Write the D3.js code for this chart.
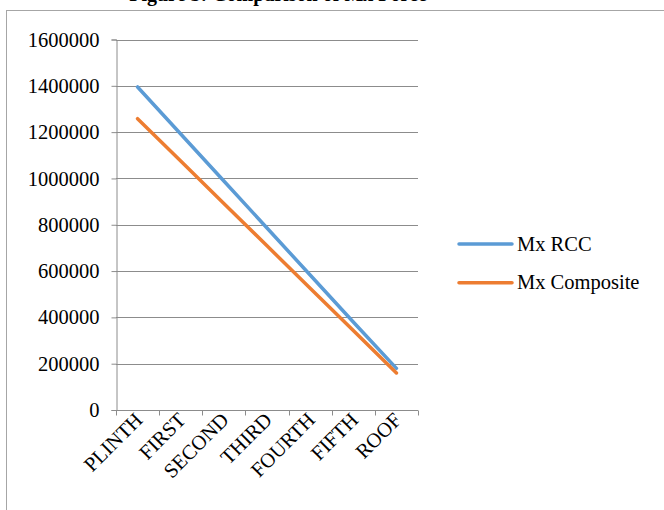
<!DOCTYPE html>
<html>
<head>
<meta charset="utf-8">
<script src="https://cdn.jsdelivr.net/npm/d3@7"></script>
<style>
  html, body { margin: 0; padding: 0; background: #fff; overflow: hidden; }
  svg { display: block; }
  svg text { font-family: "Liberation Serif", "Times New Roman", serif; }
</style>
</head>
<body>
<svg id="chart" width="664" height="510"></svg>
<script>
const floors = ["PLINTH", "FIRST", "SECOND", "THIRD", "FOURTH", "FIFTH", "ROOF"];
const mxRCC       = [1395000, 1192000, 989000, 786000, 583000, 380000, 180000];
const mxComposite = [1258000, 1075000, 892000, 709000, 526000, 343000, 160000];
const yTicks = [0, 200000, 400000, 600000, 800000, 1000000, 1200000, 1400000, 1600000];
const seriesNames = ["Mx RCC", "Mx Composite"];
const seriesColors = ["#5b9bd5", "#ed7d31"];

const serif = "Liberation Serif";
const svg = d3.select("#chart").attr("font-family", serif);
const plot = { left: 116, right: 418, top: 39.5, bottom: 410 };
const fontSize = 20.5;

// outer chart frame (runs off the right/bottom of the window)
svg.append("rect")
  .attr("x", 6.5).attr("y", 10.5)
  .attr("width", 720).attr("height", 560)
  .attr("fill", "none").attr("stroke", "#a6a6a6").attr("stroke-width", 1);

// title, mostly cut off above the frame
svg.append("text")
  .attr("x", 278).attr("y", 1)
  .attr("text-anchor", "middle")
  .attr("font-family", serif)
  .attr("font-weight", "bold")
  .attr("font-size", 20)
  .text("Figure 5: Comparison of Mx Force");

const x = d3.scaleBand().domain(floors).range([plot.left, plot.right]);
const y = d3.scaleLinear().domain([0, 1600000]).range([plot.bottom, plot.top]);

// gridlines
svg.append("g").selectAll("line").data(yTicks.filter(d => d > 0)).join("line")
  .attr("x1", plot.left).attr("x2", plot.right)
  .attr("y1", d => Math.round(y(d)) + 0.5).attr("y2", d => Math.round(y(d)) + 0.5)
  .attr("stroke", "#8c8c8c").attr("stroke-width", 1);

// y axis
const yAxis = svg.append("g")
  .attr("transform", `translate(${plot.left + 0.5},0)`)
  .call(d3.axisLeft(y).tickValues(yTicks).tickSize(5).tickPadding(12).tickFormat(d3.format("d")))
  .attr("font-family", serif).attr("font-size", fontSize);
yAxis.selectAll("line, path").attr("stroke", "#8c8c8c");
yAxis.selectAll("text").attr("fill", "#000");

// x axis
const xAxis = svg.append("g")
  .attr("transform", `translate(0,${Math.round(plot.bottom) + 0.5})`)
  .call(d3.axisBottom(x).tickSize(0).tickFormat(""));
xAxis.select("path").attr("stroke", "#8c8c8c").attr("d", `M${plot.left},0H${plot.right}`);
const edges = floors.map(f => x(f)).concat([plot.right]);
xAxis.selectAll(".edge").data(edges).join("line")
  .attr("class", "edge")
  .attr("x1", d => Math.round(d) + 0.5).attr("x2", d => Math.round(d) + 0.5)
  .attr("y1", 0).attr("y2", 5)
  .attr("stroke", "#8c8c8c");

svg.append("g").selectAll("text").data(floors).join("text")
  .attr("transform", d => `translate(${x(d) + x.bandwidth() / 2 - 4},${plot.bottom + 1}) rotate(-45)`)
  .attr("text-anchor", "end")
  .attr("dy", "0.7em")
  .attr("font-family", serif)
  .attr("font-size", fontSize)
  .text(d => d);

// lines
const line = d3.line()
  .x((d, i) => x(floors[i]) + x.bandwidth() / 2)
  .y(d => y(d));
[mxRCC, mxComposite].forEach((vals, k) => {
  svg.append("path")
    .datum(vals)
    .attr("d", line)
    .attr("fill", "none")
    .attr("stroke", seriesColors[k])
    .attr("stroke-width", 3.5)
    .attr("stroke-linecap", "round");
});

// legend
const legend = svg.append("g").attr("transform", "translate(459,244)");
seriesNames.forEach((name, k) => {
  const g = legend.append("g").attr("transform", `translate(0,${k * 38.7})`);
  g.append("line")
    .attr("x1", 0).attr("x2", 53).attr("y1", 0).attr("y2", 0)
    .attr("stroke", seriesColors[k]).attr("stroke-width", 3.5)
    .attr("stroke-linecap", "round");
  g.append("text")
    .attr("x", 58).attr("y", 0).attr("dy", "0.32em")
    .attr("font-family", serif)
    .attr("font-size", fontSize)
    .text(name);
});
</script>
</body>
</html>
